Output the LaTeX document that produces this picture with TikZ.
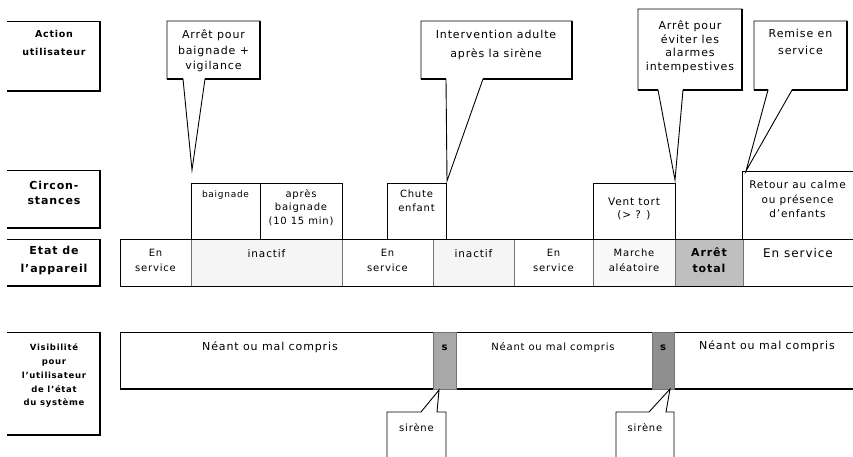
\documentclass[tikz,border=0pt]{standalone}
\usepackage{fontspec}
\setmainfont{DejaVu Sans}[LetterSpace=8]
\usepackage{xcolor}

\definecolor{inactgray}{gray}{0.96}
\definecolor{marchegray}{gray}{0.975}
\definecolor{arretgray}{gray}{0.75}
\definecolor{sirenegray}{gray}{0.66}
\definecolor{sirenedark}{gray}{0.56}
\newcommand{\txtsize}[2]{\fontsize{#1}{#2}\selectfont}
\tikzset{
	txt/.style={anchor=north, align=center, inner sep=0pt},
	frame/.style={line width=0.9pt},
	heavy/.style={line width=1.7pt},
	sepline/.style={draw=black!55, line width=0.9pt},
}

\begin{document}
\begin{tikzpicture}[x=1pt,y=-1pt]
	\useasboundingbox (0,0) rectangle (853,457);
	% row labels on the left
	\foreach \yt/\yb in {21/91, 170/228, 239/286, 332/435}
	{
		\draw[frame] (7,\yt) -- (100,\yt);
		\draw[heavy] (100,\yt) -- (100,\yb);
		\draw[line width=2.3pt] (100.8,\yb) -- (7,\yb);
	}
	\node[txt, font=\bfseries\txtsize{9.5}{18}] (lblaction) at (54,30) {Action\\utilisateur};
	\node[txt, font=\bfseries\txtsize{11}{15}] (lblcirc) at (54,180.6) {Circon-\\stances};
	\node[txt, font=\bfseries\txtsize{11}{18}] (lbletat) at (54,245.6) {Etat de\\l'appareil};
	\node[txt, font=\bfseries\txtsize{8.5}{13.8}] (lblvis) at (54,343.6) {Visibilité\\pour\\l'utilisateur\\de l'état\\du système};
	% user actions (callouts)
	\foreach \nm/\xl/\yt/\xr/\yb/\pa/\pb/\tx/\ty in
	{
		bain/167/21/260/79/183/205/192/170,
		adulte/421/21/572/79/446/483/447/181,
		alarme/638/9/742/90/658/683/675/180,
		remise/754/21/847/90/768/792/746/171
	}
	{
		\coordinate (tip\nm) at (\tx,\ty);
		\draw[frame] (tip\nm) -- (\pa,\yb) -- (\xl,\yb) -- (\xl,\yt) -- (\xr,\yt) -- (\xr,\yb) -- (\pb,\yb) -- cycle;
		\draw[heavy] (\xr,\yt) -- (\xr,\yb) -- (\pb,\yb) (\pa,\yb) -- (\xl,\yb);
	}
	\node[txt, font=\txtsize{11}{15.5}] (actbain) at (213.5,29.6) {Arrêt pour\\baignade +\\vigilance};
	\node[txt, font=\txtsize{11}{19}] (actadulte) at (496,29.6) {Intervention adulte\\après la sirène};
	\node[txt, font=\txtsize{11}{13.5}] (actalarme) at (690,20.6) {Arrêt pour\\éviter les\\alarmes\\intempestives};
	\node[txt, font=\txtsize{11}{17}] (actremise) at (800.5,28.6) {Remise en\\service};
	% state of the device
	\foreach \xa/\xb/\col in {120/191/white, 191/342/inactgray, 342/433/white, 433/514/inactgray, 514/593/white, 593/675/marchegray, 675/743/arretgray, 743/853/white}
	{
		\filldraw[sepline, fill=\col] (\xa,239) rectangle (\xb,286);
	}
	\draw[frame] (853,239) -- (120,239) -- (120,286) -- (853,286);
	\node[txt, font=\txtsize{10}{15}] (eserv1) at (155.5,249) {En\\service};
	\node[txt, font=\txtsize{10.5}{15}] (einact1) at (266.5,249) {inactif};
	\node[txt, font=\txtsize{10}{15}] (eserv2) at (387.5,249) {En\\service};
	\node[txt, font=\txtsize{10.5}{15}] (einact2) at (473.5,249) {inactif};
	\node[txt, font=\txtsize{10}{15}] (eserv3) at (553.5,249) {En\\service};
	\node[txt, font=\txtsize{10}{15}] (emarche) at (634,249) {Marche\\aléatoire};
	\node[txt, font=\bfseries\txtsize{11}{16}] (earret) at (709,248) {Arrêt\\total};
	\node[txt, font=\txtsize{12}{15}] (eserv4) at (798,248.2) {En service};
	% circumstances
	\foreach \xa/\xb in {191/260, 260/342, 387/446, 593/675}
	{
		\draw[frame] (\xa,239) |- (\xb,183) -- (\xb,239);
	}
	\draw[frame] (742,239) |- (853,171);
	\node[txt, font=\txtsize{9}{13.5}] (cbain) at (225.5,190) {baignade};
	\node[txt, font=\txtsize{10}{13.5}] (capres) at (301,189) {après\\baignade\\(10 15 min)};
	\node[txt, font=\txtsize{10}{14}] (cchute) at (416.5,189.5) {Chute\\enfant};
	\node[txt, font=\txtsize{10.5}{13}] (cvent) at (634,197.7) {Vent tort\\(> ? )};
	\node[txt, font=\txtsize{10.5}{14.5}] (cretour) at (797.5,180.8) {Retour au calme\\ou présence\\d'enfants};
	% visibility of the system state
	\draw[frame] (853,332) -| (120,389);
	\draw[heavy] (120,389) -- (853,389);
	\filldraw[sepline, fill=sirenegray] (433,332) rectangle (456,389);
	\filldraw[sepline, fill=sirenedark] (652,332) rectangle (674,389);
	\node[txt, font=\txtsize{11}{14}] (vneant1) at (270,341) {Néant ou mal compris};
	\node[txt, font=\bfseries\txtsize{10}{12}] (vs1) at (444.5,345) {s};
	\node[txt, font=\txtsize{10}{14}] (vneant2) at (553,342) {Néant ou mal compris};
	\node[txt, font=\bfseries\txtsize{10}{12}] (vs2) at (663,345) {s};
	\node[txt, font=\txtsize{11}{14}] (vneant3) at (767,340.6) {Néant ou mal compris};
	% siren callouts
	\foreach \nm/\xl/\xr/\pa/\pb/\tx/\ty in {a/387/446/421/437/439/390, b/616/674/649/666/670/389}
	{
		\coordinate (sirtip\nm) at (\tx,\ty);
		\draw[frame] (\xl,457) -- (\xl,412) -- (\pa,412) -- (sirtip\nm) -- (\pb,412) -- (\xr,412) -- (\xr,457);
	}
	\node[txt, font=\txtsize{10}{14}] (sirenea) at (416.5,423) {sirène};
	\node[txt, font=\txtsize{10}{14}] (sireneb) at (645,423) {sirène};
\end{tikzpicture}
\end{document}
